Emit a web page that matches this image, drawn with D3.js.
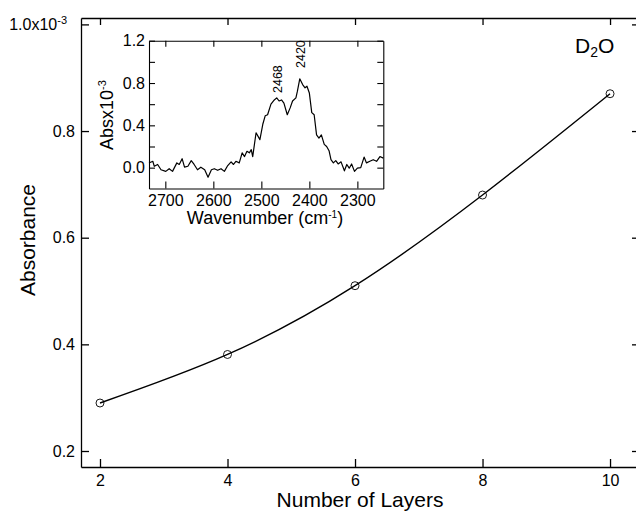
<!DOCTYPE html>
<html>
<head>
<meta charset="utf-8">
<script src="https://cdn.jsdelivr.net/npm/d3@7"></script>
<style>
  body { margin: 0; background: #fff; }
  svg { font-family: "Liberation Sans", Arial, Helvetica, sans-serif; }
  .axis path, .axis line { stroke: #000; stroke-width: 1.3; }
  .axis text { font-size: 16px; fill: #000; }
  .inset .axis path, .inset .axis line { stroke-width: 1.1; }
</style>
</head>
<body>
<script>
// main plot data
const layers = [2, 4, 6, 8, 10];
const absorbance = [0.29, 0.381, 0.51, 0.68, 0.87];
const layerTicks = [2, 4, 6, 8, 10];
const absTicks = [0.2, 0.4, 0.6, 0.8, 1.0];

// inset spectrum (absorbance x10^-3 vs wavenumber)
const wavenumber = [2734, 2726, 2723, 2716, 2709, 2699, 2692, 2685, 2676, 2671, 2665, 2660, 2653, 2646, 2640,
  2633, 2626, 2618, 2611, 2604, 2598, 2591, 2584, 2577, 2570, 2563, 2558, 2553, 2546, 2540, 2535, 2530, 2525,
  2521, 2518, 2511, 2503, 2497, 2492, 2487, 2480, 2473, 2468, 2463, 2458, 2453, 2446, 2440, 2435, 2428, 2425,
  2420, 2414, 2409, 2405, 2400, 2395, 2390, 2385, 2380, 2375, 2369, 2364, 2359, 2355, 2350, 2345, 2340, 2334,
  2327, 2322, 2317, 2312, 2306, 2300, 2293, 2286, 2281, 2274, 2267, 2260, 2253, 2246];
const spectrum = [0.044, 0.06, 0.013, 0.03, -0.02, -0.035, -0.01, -0.035, 0.045, 0.03, 0.085, 0.005, 0.013, 0.066, 0.03,
  -0.02, 0.004, -0.02, -0.09, -0.02, -0.01, -0.025, -0.01, -0.035, 0.02, 0.055, 0.03, 0.06, 0.045, 0.14, 0.105, 0.155, 0.14,
  0.17, 0.105, 0.33, 0.265, 0.41, 0.49, 0.5, 0.6, 0.64, 0.66, 0.63, 0.64, 0.61, 0.5, 0.565, 0.63, 0.66, 0.72,
  0.84, 0.785, 0.755, 0.77, 0.705, 0.52, 0.5, 0.31, 0.28, 0.31, 0.22, 0.2, 0.16, 0.075, 0.045, 0.066, 0.035, 0.055,
  -0.03, 0.03, -0.005, 0.035, -0.035, -0.005, 0.0, 0.1, 0.045, 0.06, 0.075, 0.06, 0.105, 0.09];
const wnTicks = [2700, 2600, 2500, 2400, 2300];
const insetYTicks = [0.0, 0.2, 0.4, 0.6, 0.8, 1.0, 1.2];
const insetYLabels = [0.0, 0.4, 0.8, 1.2];
const peaks = [2468, 2420];

const WIDTH = 636, HEIGHT = 512;
const MAIN = {left: 81, right: 640, top: 18, bottom: 467};
const INSET = {left: 149, right: 383.3, top: 40.7, bottom: 188.5};

const svg = d3.select("body").append("svg")
    .attr("width", WIDTH)
    .attr("height", HEIGHT);

const X = d3.scaleLinear().domain([1.702, 10.47]).range([MAIN.left, MAIN.right]);
const Y = d3.scaleLinear().domain([0.17, 1.012]).range([MAIN.bottom, MAIN.top]);

// main axes, ticks pointing inward
svg.append("g").attr("class", "axis")
    .attr("transform", "translate(0," + MAIN.bottom + ")")
    .call(d3.axisBottom(X).tickValues(layerTicks).tickSizeInner(-8).tickSizeOuter(0).tickPadding(8));
svg.append("g").attr("class", "axis")
    .attr("transform", "translate(0," + MAIN.top + ")")
    .call(d3.axisTop(X).tickValues(layerTicks).tickSizeInner(-7).tickSizeOuter(0).tickFormat(""));
const yAxis = svg.append("g").attr("class", "axis")
    .attr("transform", "translate(" + MAIN.left + ",0)")
    .call(d3.axisLeft(Y).tickValues(absTicks).tickSizeInner(-8).tickSizeOuter(0).tickPadding(6)
      .tickFormat(d3.format(".1f")));
svg.append("g").attr("class", "axis")
    .attr("transform", "translate(" + MAIN.right + ",0)")
    .call(d3.axisRight(Y).tickValues(absTicks).tickSizeInner(-8).tickSizeOuter(0).tickFormat(""));

// top tick label gets the x10^-3 factor
yAxis.selectAll(".tick").filter(d => d === 1.0).select("text")
    .attr("x", -14)
    .text("1.0x10")
    .append("tspan").attr("dy", "-0.55em").style("font-size", "11px").text("-3");

// fitted curve and points
const pts = layers.map((d, i) => [d, absorbance[i]]);
svg.append("path")
    .datum(pts)
    .attr("fill", "none")
    .attr("stroke", "#000")
    .attr("stroke-width", 1.4)
    .attr("d", d3.line().x(d => X(d[0])).y(d => Y(d[1])).curve(d3.curveNatural));
svg.selectAll(".pt")
    .data(pts)
    .enter()
    .append("circle")
      .attr("cx", d => X(d[0]))
      .attr("cy", d => Y(d[1]))
      .attr("r", 4)
      .attr("fill", "none")
      .attr("stroke", "#000")
      .attr("stroke-width", 0.9);

// axis titles
svg.append("text")
    .attr("x", 360).attr("y", 507)
    .attr("text-anchor", "middle")
    .attr("font-size", "21px")
    .text("Number of Layers");
svg.append("text")
    .attr("transform", "translate(35,240) rotate(-90)")
    .attr("text-anchor", "middle")
    .attr("font-size", "21px")
    .text("Absorbance");

const d2o = svg.append("text")
    .attr("x", 575).attr("y", 53)
    .attr("font-size", "21px");
d2o.append("tspan").text("D");
d2o.append("tspan").attr("font-size", "14px").attr("dy", "4").text("2");
d2o.append("tspan").attr("dy", "-4").text("O");

// ---- inset ----
const XI = d3.scaleLinear().domain([2734, 2246]).range([INSET.left, INSET.right]);
const YI = d3.scaleLinear().domain([-0.197, 1.2]).range([INSET.bottom, INSET.top]);
const inset = svg.append("g").attr("class", "inset");

inset.append("rect")
    .attr("x", INSET.left).attr("y", INSET.top)
    .attr("width", INSET.right - INSET.left)
    .attr("height", INSET.bottom - INSET.top)
    .attr("fill", "#fff");

inset.append("g").attr("class", "axis")
    .attr("transform", "translate(0," + INSET.bottom + ")")
    .call(d3.axisBottom(XI).tickValues(wnTicks).tickSizeInner(-7).tickSizeOuter(0).tickPadding(6)
      .tickFormat(d3.format("d")));
inset.append("g").attr("class", "axis")
    .attr("transform", "translate(0," + INSET.top + ")")
    .call(d3.axisTop(XI).tickValues(wnTicks).tickSizeInner(-6).tickSizeOuter(0).tickFormat(""));
inset.append("g").attr("class", "axis")
    .attr("transform", "translate(" + INSET.left + ",0)")
    .call(d3.axisLeft(YI).tickValues(insetYTicks).tickSizeInner(-6).tickSizeOuter(0).tickPadding(4)
      .tickFormat(d => insetYLabels.includes(d) ? d3.format(".1f")(d) : ""));
inset.append("g").attr("class", "axis")
    .attr("transform", "translate(" + INSET.right + ",0)")
    .call(d3.axisRight(YI).tickValues(insetYTicks).tickSizeInner(-6).tickSizeOuter(0).tickFormat(""));

inset.append("path")
    .datum(wavenumber.map((w, i) => [w, spectrum[i]]))
    .attr("fill", "none")
    .attr("stroke", "#000")
    .attr("stroke-width", 1.2)
    .attr("stroke-linejoin", "round")
    .attr("d", d3.line().x(d => XI(d[0])).y(d => YI(d[1])));

// peak labels
const peakY = {2468: 93, 2420: 68};
inset.selectAll(".peak")
    .data(peaks)
    .enter()
    .append("text")
      .attr("transform", d => "translate(" + (XI(d) + 5.5) + "," + peakY[d] + ") rotate(-90)")
      .attr("font-size", "12.5px")
      .text(d => d);

const wl = inset.append("text")
    .attr("x", 265).attr("y", 224)
    .attr("text-anchor", "middle")
    .attr("font-size", "18px")
    .text("Wavenumber (cm");
wl.append("tspan").attr("font-size", "10px").attr("dy", "-6").text("-1");
wl.append("tspan").attr("dy", "6").text(")");

const yl = inset.append("text")
    .attr("transform", "translate(113,115) rotate(-90)")
    .attr("text-anchor", "middle")
    .attr("font-size", "18px")
    .text("Absx10");
yl.append("tspan").attr("font-size", "11px").attr("dy", "-7").text("-3");
</script>
</body>
</html>
